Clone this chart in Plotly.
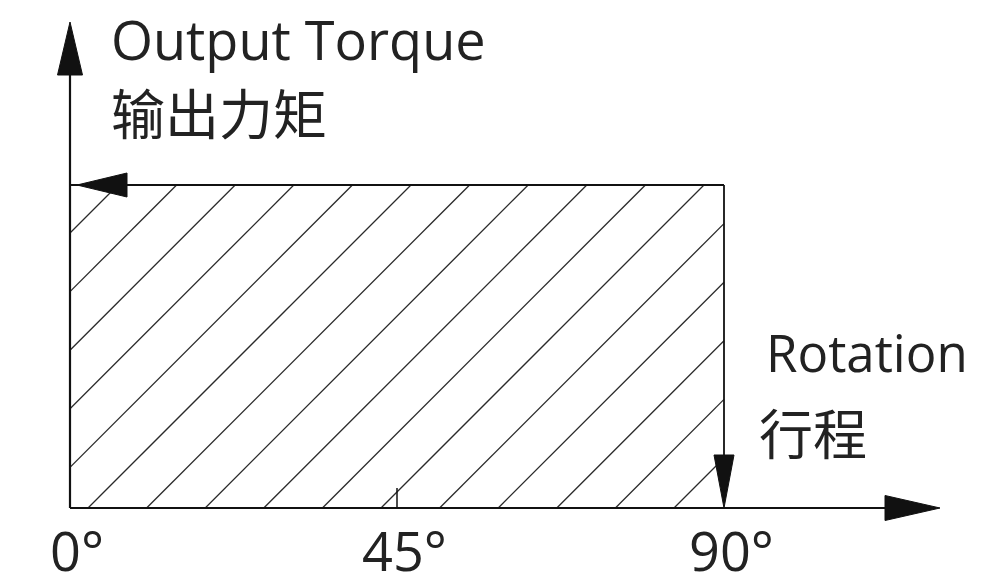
import numpy as np
import plotly.graph_objects as go

# ---------------- data ----------------
tick_values = [0, 45, 90]
tick_labels = ["0°", "45°", "90°"]
rotation_max = 90          # degrees of stroke
torque_level = 1.0         # constant output torque (normalised)
y_title = ["Output Torque", "输出力矩"]
x_title = ["Rotation", "行程"]

# ---------------- geometry / style ----------------
W, H = 988, 587
origin_px = (70, 508)                 # pixel location of (0, 0) inside the figure
sx = (724 - 70) / rotation_max        # px per degree
sy = (508 - 185) / torque_level       # px per torque unit
x_range = [-origin_px[0] / sx, (W - origin_px[0]) / sx]
y_range = [-(H - origin_px[1]) / sy, origin_px[1] / sy]

x_axis_end = (940 - 70) / sx
y_axis_end = (508 - 22) / sy

FONT = "Open Sans, Noto Sans CJK SC, sans-serif"
INK = "#111111"
TXT = "#222222"

fig = go.Figure()

def dx(p):
    return p / sx

def dy(p):
    return p / sy

# hatch lines (45 degrees in screen space), clipped to the rectangle
hx, hy = [], []
Wr, Hr = rotation_max * sx, torque_level * sy
spacing = 58.6
phase = 18.0
k_lo = int(np.floor((-Hr - phase) / spacing)) - 1
k_hi = int(np.ceil((Wr - phase) / spacing)) + 1
for k in range(k_lo, k_hi + 1):
    u = phase + k * spacing
    y0 = max(0.0, -u)
    y1 = min(Hr, Wr - u)
    if y1 <= y0:
        continue
    hx += [dx(u + y0), dx(u + y1), None]
    hy += [dy(y0), dy(y1), None]
fig.add_trace(go.Scatter(x=hx, y=hy, mode="lines",
                         line=dict(color="#2a2a2a", width=1.3),
                         hoverinfo="skip", showlegend=False))

def seg(x0, y0, x1, y1, w=2.2, color=INK):
    fig.add_shape(type="line", x0=x0, y0=y0, x1=x1, y1=y1,
                  line=dict(color=color, width=w), layer="above")

def arrowhead(tx, ty, direction, length, width):
    if direction == "up":
        pts = [(tx, ty), (tx - dx(width / 2), ty - dy(length)), (tx + dx(width / 2), ty - dy(length))]
    elif direction == "down":
        pts = [(tx, ty), (tx - dx(width / 2), ty + dy(length)), (tx + dx(width / 2), ty + dy(length))]
    elif direction == "left":
        pts = [(tx, ty), (tx + dx(length), ty + dy(width / 2)), (tx + dx(length), ty - dy(width / 2))]
    else:
        pts = [(tx, ty), (tx - dx(length), ty + dy(width / 2)), (tx - dx(length), ty - dy(width / 2))]
    path = "M {} {} L {} {} L {} {} Z".format(*[v for p in pts for v in p])
    fig.add_shape(type="path", path=path, fillcolor=INK,
                  line=dict(color=INK, width=1), layer="above")

# axes
seg(0, 0, 0, y_axis_end - dy(10))
arrowhead(0, y_axis_end, "up", 53, 25)
seg(0, 0, x_axis_end - dx(10), 0)
arrowhead(x_axis_end, 0, "right", 55, 25)

# torque envelope
seg(0, torque_level, rotation_max, torque_level, w=1.8)
arrowhead(dx(7), torque_level, "left", 50, 24)
seg(rotation_max, torque_level, rotation_max, dy(20), w=1.8)
arrowhead(rotation_max, 0, "down", 53, 20)

# small mid tick
seg(tick_values[1], 0, tick_values[1], dy(20), w=1.5)

# tick labels
for v, lab in zip(tick_values, tick_labels):
    fig.add_annotation(x=v, y=0, text=lab, showarrow=False,
                       xanchor="center", yanchor="top", yshift=-3,
                       xshift=7,
                       font=dict(family=FONT, size=54, color=TXT))

# titles
fig.add_annotation(x=dx(39), y=y_range[1], text=y_title[0], showarrow=False,
                   xanchor="left", yanchor="top", yshift=0,
                   font=dict(family=FONT, size=54, color=TXT))
fig.add_annotation(x=dx(39), y=y_range[1] - dy(75), text=y_title[1], showarrow=False,
                   xanchor="left", yanchor="top",
                   font=dict(family=FONT, size=54, color=TXT))
fig.add_annotation(x=rotation_max + dx(40), y=torque_level - dy(130), text=x_title[0], showarrow=False,
                   xanchor="left", yanchor="top",
                   font=dict(family=FONT, size=51, color=TXT))
fig.add_annotation(x=rotation_max + dx(33), y=torque_level - dy(210), text=x_title[1], showarrow=False,
                   xanchor="left", yanchor="top",
                   font=dict(family=FONT, size=54, color=TXT))

fig.update_xaxes(range=x_range, visible=False, fixedrange=True)
fig.update_yaxes(range=y_range, visible=False, fixedrange=True)
fig.update_layout(width=W, height=H, margin=dict(l=0, r=0, t=0, b=0),
                  paper_bgcolor="white", plot_bgcolor="white",
                  showlegend=False)

fig.write_html("out.html",
               config={"displayModeBar": False, "staticPlot": True},
               post_script="document.body.style.margin='0px';document.body.style.overflow='hidden';")
